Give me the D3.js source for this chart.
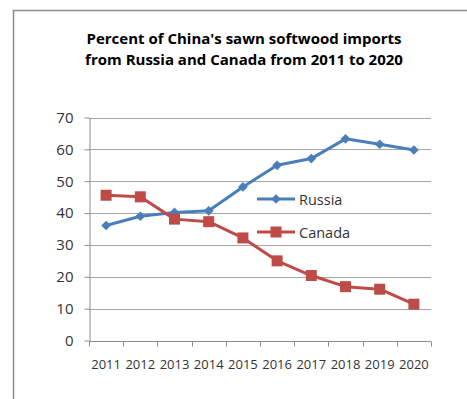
<!DOCTYPE html>
<html>
<head>
<meta charset="utf-8">
<script src="https://cdn.jsdelivr.net/npm/d3@7"></script>
<style>
  html, body { margin: 0; padding: 0; background: #fff; }
  svg { display: block; }
</style>
</head>
<body>
<script>
// Share of China's sawn softwood imports (%)
const years = ["2011","2012","2013","2014","2015","2016","2017","2018","2019","2020"];
const russia = [36.1, 39.0, 40.2, 40.7, 48.2, 55.0, 57.1, 63.3, 61.6, 59.8];
const canada = [45.6, 45.1, 38.1, 37.3, 32.2, 25.0, 20.4, 16.9, 16.1, 11.4];
const yTicks = [0, 10, 20, 30, 40, 50, 60, 70];
const titleLines = ["Percent of China's sawn softwood imports",
                    "from Russia and Canada from 2011 to 2020"];

const W = 467, H = 399;
const svg = d3.select("body").append("svg").attr("width", W).attr("height", H);
const font = "'Open Sans', 'DejaVu Sans', sans-serif";

// chart frame
svg.append("rect")
  .attr("x", 13.5).attr("y", 10.5).attr("width", 470).attr("height", 400)
  .attr("fill", "none").attr("stroke", "#8c8c8c").attr("stroke-width", 1.5);

// title
svg.append("g").selectAll("text").data(titleLines).join("text")
  .attr("x", 244).attr("y", (d, i) => 44 + i * 21)
  .attr("text-anchor", "middle")
  .attr("font-family", font).attr("font-weight", "bold").attr("font-size", 15)
  .attr("fill", "#000").text(d => d);

const x = d3.scaleBand().domain(years).range([89, 431]);
const y = d3.scaleLinear().domain([0, 70]).range([340.5, 117.5]);

// gridlines
svg.append("g").selectAll("line").data(yTicks.filter(d => d > 0)).join("line")
  .attr("x1", 89).attr("x2", 431)
  .attr("y1", d => Math.round(y(d)) + 0.5).attr("y2", d => Math.round(y(d)) + 0.5)
  .attr("stroke", "#a6a6a6").attr("stroke-width", 1);

// y axis
const yAxis = svg.append("g").attr("transform", "translate(89.5,0)")
  .call(d3.axisLeft(y).tickValues(yTicks).tickSize(5).tickPadding(11).tickSizeOuter(0));
yAxis.select(".domain").attr("stroke", "#8c8c8c");
yAxis.selectAll(".tick line").attr("stroke", "#8c8c8c");
yAxis.selectAll(".tick text").attr("font-family", font).attr("font-size", 15).attr("fill", "#333");

// x axis with ticks on category boundaries
const xAxis = svg.append("g").attr("transform", "translate(0," + (Math.round(y(0)) + 0.5) + ")");
xAxis.append("line").attr("x1", 89).attr("x2", 431).attr("stroke", "#8c8c8c");
const bounds = years.map(d => x(d)).concat([x(years[years.length - 1]) + x.bandwidth()]);
xAxis.selectAll("line.tk").data(bounds).join("line").attr("class", "tk")
  .attr("x1", d => Math.round(d) + 0.5).attr("x2", d => Math.round(d) + 0.5)
  .attr("y1", 0).attr("y2", 5).attr("stroke", "#8c8c8c");
xAxis.selectAll("text").data(years).join("text")
  .attr("x", d => x(d) + x.bandwidth() / 2).attr("y", 27)
  .attr("text-anchor", "middle")
  .attr("font-family", font).attr("font-size", 13).attr("fill", "#333")
  .text(d => d);

const cx = d => x(d) + x.bandwidth() / 2;
const line = d3.line().x((d, i) => cx(years[i])).y(d => y(d));

const blue = "#4a7ebb", red = "#be4b48";

// Russia series
svg.append("path").datum(russia).attr("d", line)
  .attr("fill", "none").attr("stroke", blue).attr("stroke-width", 3).attr("stroke-linejoin", "round");
const diamond = d3.symbol().type(d3.symbolDiamond2).size(60);
svg.append("g").selectAll("path").data(russia).join("path")
  .attr("d", diamond)
  .attr("transform", (d, i) => `translate(${cx(years[i])},${y(d)})`)
  .attr("fill", blue);

// Canada series
svg.append("path").datum(canada).attr("d", line)
  .attr("fill", "none").attr("stroke", red).attr("stroke-width", 3).attr("stroke-linejoin", "round");
svg.append("g").selectAll("rect").data(canada).join("rect")
  .attr("x", (d, i) => cx(years[i]) - 5.5).attr("y", d => y(d) - 5.5)
  .attr("width", 11).attr("height", 11).attr("fill", red);

// legend
const legend = [
  { name: "Russia", color: blue, shape: "diamond", yy: 199 },
  { name: "Canada", color: red, shape: "square", yy: 232 }
];
const lg = svg.append("g").selectAll("g").data(legend).join("g")
  .attr("transform", d => `translate(0,${d.yy})`);
lg.append("line").attr("x1", 257).attr("x2", 295)
  .attr("stroke", d => d.color).attr("stroke-width", 3);
lg.filter(d => d.shape === "diamond").append("path")
  .attr("d", diamond).attr("transform", "translate(276,0)").attr("fill", d => d.color);
lg.filter(d => d.shape === "square").append("rect")
  .attr("x", 270.5).attr("y", -5.5).attr("width", 11).attr("height", 11).attr("fill", d => d.color);
lg.append("text").attr("x", 299).attr("y", 5.5)
  .attr("font-family", font).attr("font-size", 14.5).attr("fill", "#333")
  .text(d => d.name);
</script>
</body>
</html>
